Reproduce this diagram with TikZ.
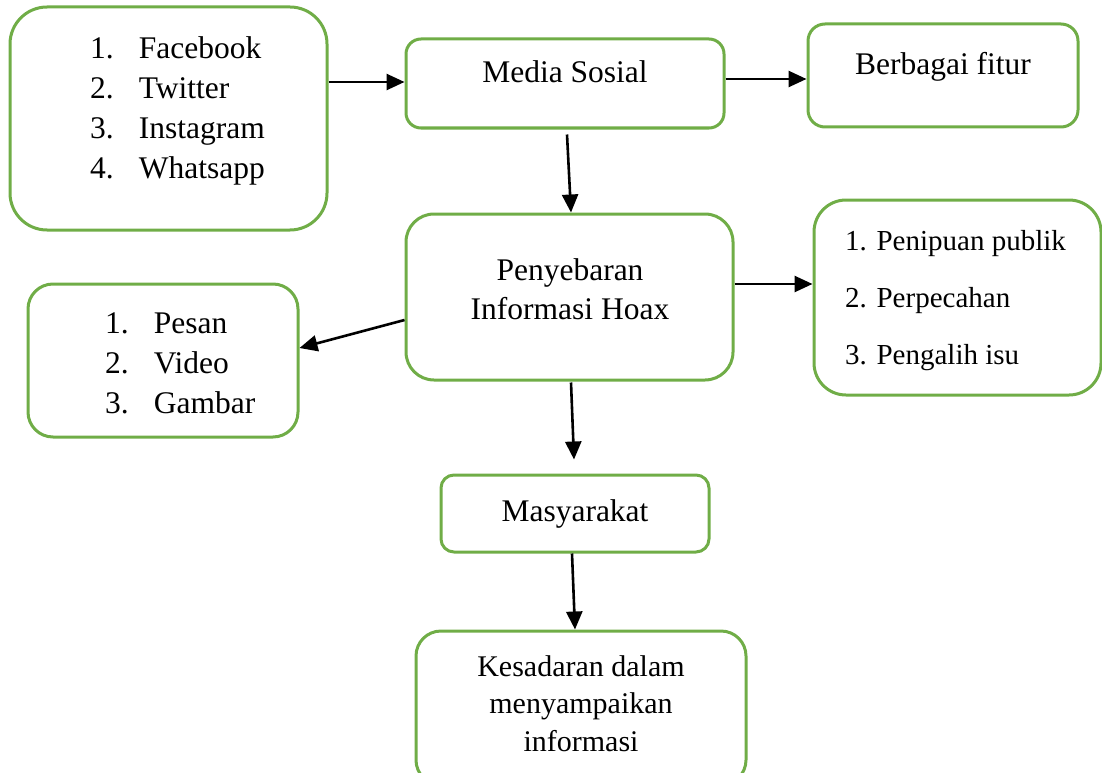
\documentclass[tikz,border=0pt]{standalone}
\usepackage{fontspec}
\setmainfont{Liberation Serif}
\usetikzlibrary{arrows.meta,calc}
\definecolor{boxgreen}{HTML}{70AD47}
\begin{document}
\begin{tikzpicture}[x=1pt,y=-1pt,
  box/.style={draw=boxgreen,line width=3pt,rectangle,inner sep=0pt},
  txt/.style={inner sep=0pt,font=\fontsize{31.5}{40}\selectfont},
  txtsmall/.style={inner sep=0pt,font=\fontsize{29}{57}\selectfont},
  arr/.style={line width=2.6pt,-{Triangle[length=18pt,width=16pt]}}]
\useasboundingbox (0,0) rectangle (1102,773);
% boxes
\node[box,rounded corners=37pt,minimum width=317pt,minimum height=223pt] (social) at (168.5,118.5) {};
\node[box,rounded corners=15pt,minimum width=318pt,minimum height=89pt] (media) at (565,83.5) {};
\node[box,rounded corners=17pt,minimum width=270pt,minimum height=103pt] (fitur) at (943,75.5) {};
\node[box,rounded corners=28pt,minimum width=327pt,minimum height=166pt] (hoax) at (569.5,297) {};
\node[box,rounded corners=32pt,minimum width=287pt,minimum height=195pt] (dampak) at (957.5,297.5) {};
\node[box,rounded corners=25pt,minimum width=270pt,minimum height=153pt] (konten) at (163,360.5) {};
\node[box,rounded corners=13pt,minimum width=268pt,minimum height=77pt] (masy) at (575,513.5) {};
\node[box,rounded corners=25pt,minimum width=330pt,minimum height=154pt] (sadar) at (581,708) {};
% texts
\node[txt,anchor=base west] (socialtext) at (90,59) {\begin{tabular}[t]{@{}l@{\hspace{25pt}}l@{}}1.&Facebook\\2.&Twitter\\3.&Instagram\\4.&Whatsapp\end{tabular}};
\node[txt,anchor=base] (mediatext) at (565,83) {Media Sosial};
\node[txt,anchor=base] (fiturtext) at (943,75) {Berbagai fitur};
\node[txt,anchor=base] (hoaxtext) at (570,280) {\begin{tabular}[t]{@{}c@{}}Penyebaran\\[-1pt]Informasi Hoax\end{tabular}};
\node[txtsmall,anchor=base west] (dampaktext) at (845,250) {\begin{tabular}[t]{@{}l@{}}1. Penipuan publik\\2. Perpecahan\\3. Pengalih isu\end{tabular}};
\node[txt,anchor=base west] (kontentext) at (105,333) {\begin{tabular}[t]{@{}l@{\hspace{25pt}}l@{}}1.&Pesan\\2.&Video\\3.&Gambar\end{tabular}};
\node[txt,anchor=base] (masytext) at (575,521) {Masyarakat};
\node[txt,anchor=base] (sadartext) at (581,676) {\fontsize{30}{37.5}\selectfont\begin{tabular}[t]{@{}c@{}}Kesadaran dalam\\menyampaikan\\informasi\end{tabular}};
% arrows
\draw[arr] ([yshift=36.5pt]social.east) -- ([yshift=1.5pt]media.west);
\draw[arr] ([yshift=4.5pt]media.east) -- ([yshift=-3.5pt]fitur.west);
\draw[arr] ([xshift=2pt,yshift=-5pt]media.south) -- ([xshift=1.5pt]hoax.north);
\draw[arr] ([yshift=-23pt]hoax.west) -- ([yshift=12.5pt]konten.east);
\draw[arr] ([yshift=13pt]hoax.east) -- ([yshift=13.5pt]dampak.west);
\draw[arr] ([xshift=1.5pt,yshift=-1pt]hoax.south) -- ([xshift=-1pt,yshift=14pt]masy.north);
\draw[arr] ([xshift=-3pt]masy.south) -- ([xshift=-6pt]sadar.north);
\end{tikzpicture}
\end{document}
